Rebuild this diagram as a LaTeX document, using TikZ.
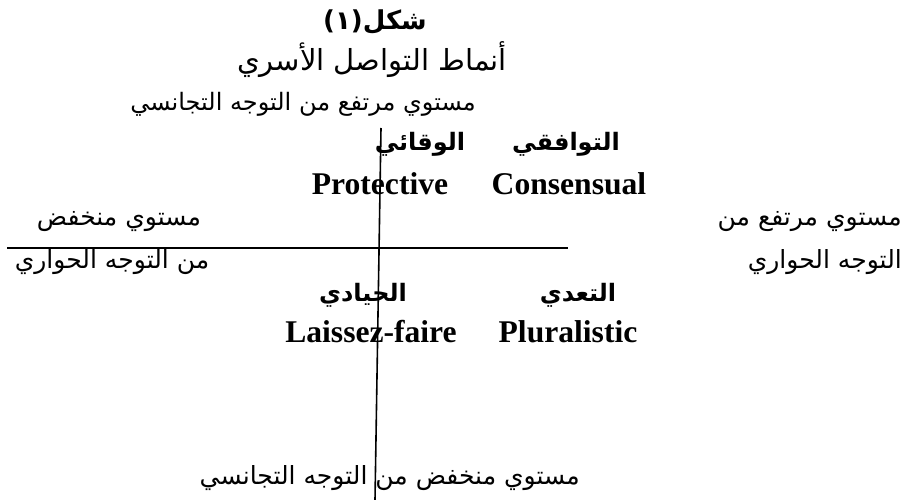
\documentclass[tikz,border=0pt]{standalone}
\usepackage{fontspec}
\setmainfont{Liberation Serif}
\newfontfamily\arabicfont[Script=Arabic]{DejaVu Sans}
\TeXXeTstate=1
\begin{document}
\begin{tikzpicture}[x=1bp,y=-1bp,
  ar/.style={font=\arabicfont\fontsize{25bp}{29bp}\selectfont, inner sep=0pt},
  armid/.style={font=\arabicfont\fontsize{24bp}{28bp}\selectfont, inner sep=0pt},
  arbig/.style={font=\arabicfont\fontsize{29bp}{33bp}\selectfont, inner sep=0pt},
  arb/.style={font=\arabicfont\bfseries\fontsize{24bp}{28bp}\selectfont, inner sep=0pt},
  artitle/.style={font=\arabicfont\bfseries\fontsize{26bp}{30bp}\selectfont, inner sep=0pt},
  lat/.style={font=\bfseries\fontsize{31.6bp}{36bp}\selectfont, inner sep=0pt, anchor=base},
  axis/.style={line width=1.6bp}]
\useasboundingbox (0,0) rectangle (907,500);
\node[artitle] (t1) at (375,22) {\beginR شكل(١)\endR};
\node[arbig] (t2) at (372,60) {\beginR أنماط التواصل الأسري\endR};
\node[armid, anchor=east] (t3) at (476,104) {\beginR مستوي مرتفع من التوجه التجانسي\endR};
\node[arb] (q1ar) at (420,144) {\beginR الوقائي\endR};
\node[arb] (q2ar) at (566,144) {\beginR التوافقي\endR};
\node[lat] (q1en) at (380,195) {Protective};
\node[lat] (q2en) at (569,195) {Consensual};
\node[ar] (l1) at (119,222) {\beginR مستوي منخفض\endR};
\node[ar] (l2) at (112,262) {\beginR من التوجه الحواري\endR};
\node[ar, anchor=east] (r1) at (902,222) {\beginR مستوي مرتفع من\endR};
\node[ar, anchor=east] (r2) at (902,262) {\beginR التوجه الحواري\endR};
\node[arb] (q3ar) at (363,295) {\beginR الحيادي\endR};
\node[arb] (q4ar) at (578,295) {\beginR التعدي\endR};
\node[lat] (q3en) at (371,343) {Laissez-faire};
\node[lat] (q4en) at (568,343) {Pluralistic};
\node[ar, anchor=east] (b1) at (580,478) {\beginR مستوي منخفض من التوجه التجانسي\endR};
\coordinate (vtop) at (381,128);
\coordinate (vbot) at (375,500);
\coordinate (hl) at (7,248);
\coordinate (hr) at (568,248);
\draw[axis] (vtop) -- (vbot);
\draw[axis] (hl) -- (hr);
\end{tikzpicture}
\end{document}
